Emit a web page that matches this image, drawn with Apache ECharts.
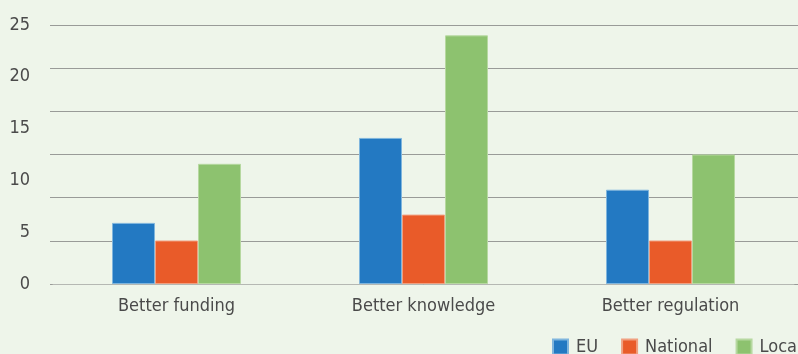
<!DOCTYPE html>
<html><head><meta charset="utf-8">
<script src="https://cdn.jsdelivr.net/npm/echarts@6/dist/echarts.min.js"></script>
<style>html,body{margin:0;padding:0;background:#EEF5EA;}#c{width:798px;height:354px;}</style>
</head><body><div id="c"></div>
<script>
const categories = ['Better funding', 'Better knowledge', 'Better regulation'];
const euValues = [5.9, 14.1, 9.1];
const nationalValues = [4.2, 6.7, 4.2];
const localValues = [11.6, 24.0, 12.5];
const yTicks = [0, 5, 10, 15, 20, 25];
const seriesNames = ['EU', 'National', 'Local'];

const font = '"DejaVu Sans Condensed", "DejaVu Sans", sans-serif';
const textColor = '#4A4A4A';
const colors = ['#2379C2', '#E95B29', '#8DC26F'];
const borders = ['#7FB5DD', '#F0A080', '#B6D8A0'];

const chart = echarts.init(document.getElementById('c'), null, {renderer: 'canvas'});
const data = [euValues, nationalValues, localValues];
chart.setOption({
  backgroundColor: '#EEF5EA',
  animation: false,
  grid: [
    {left: 50, right: 0, top: 25, bottom: 70},
    {left: 53, right: 4, top: 25, bottom: 70}
  ],
  legend: {
    data: seriesNames,
    left: 547, top: 333, width: 400,
    itemWidth: 15, itemHeight: 15, itemGap: 23,
    icon: 'rect',
    textStyle: {fontFamily: font, fontSize: 18, color: textColor, padding: [0, 0, 0, 3]}
  },
  xAxis: [
    {gridIndex: 0, type: 'value', show: false, min: 0, max: 1},
    {gridIndex: 1, type: 'category', data: categories,
     axisLine: {show: true, lineStyle: {color: '#B5B8B3', width: 1}},
     axisTick: {show: false},
     axisLabel: {fontFamily: font, fontSize: 18, color: textColor, margin: 13}}
  ],
  yAxis: [
    {gridIndex: 0, type: 'value', min: 0, max: 6, interval: 1,
     axisLabel: {show: false}, axisLine: {show: false}, axisTick: {show: false},
     splitLine: {show: true, lineStyle: {color: '#999B98', width: 1}}},
    {gridIndex: 1, type: 'value', min: yTicks[0], max: yTicks[yTicks.length - 1], interval: 5,
     axisLabel: {fontFamily: font, fontSize: 18, color: textColor, margin: 23,
                 formatter: v => yTicks.includes(v) ? String(v) : ''},
     axisLine: {show: false}, axisTick: {show: false}, splitLine: {show: false}}
  ],
  series: seriesNames.map((name, i) => ({
    name, type: 'bar', xAxisIndex: 1, yAxisIndex: 1,
    data: data[i], barWidth: 43, barGap: '0%',
    itemStyle: {color: colors[i], borderColor: borders[i], borderWidth: 1}
  }))
});
</script></body></html>
